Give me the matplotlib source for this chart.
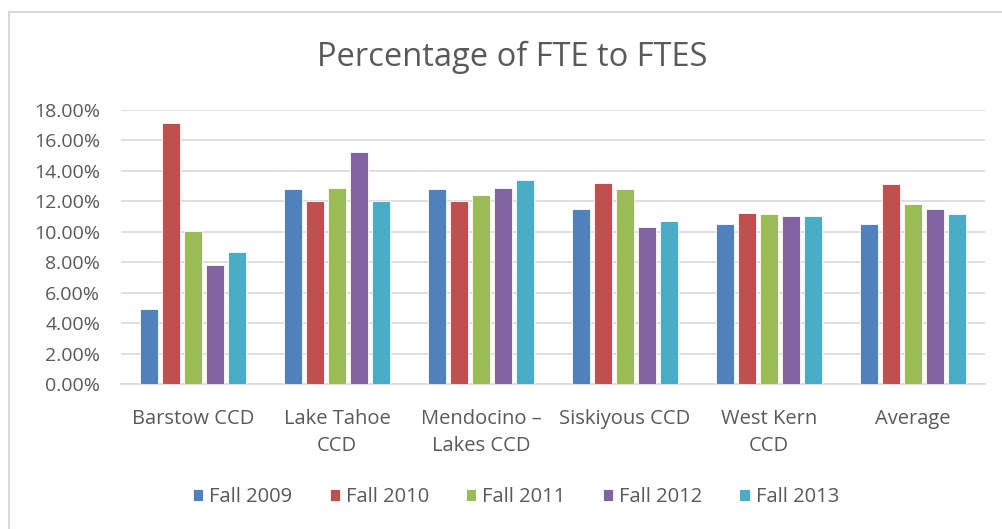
import matplotlib.pyplot as plt
import numpy as np
from matplotlib.lines import Line2D
from matplotlib.ticker import FuncFormatter

plt.rcParams['font.family'] = ['Open Sans', 'DejaVu Sans']

categories = ["Barstow CCD", "Lake Tahoe\nCCD", "Mendocino \u2013\nLakes CCD",
              "Siskiyous CCD", "West Kern\nCCD", "Average"]
series = ["Fall 2009", "Fall 2010", "Fall 2011", "Fall 2012", "Fall 2013"]

fall2009 = [4.91, 12.81, 12.81, 11.47, 10.53, 10.51]
fall2010 = [17.13, 12.02, 12.00, 13.23, 11.21, 13.12]
fall2011 = [10.03, 12.88, 12.39, 12.81, 11.15, 11.85]
fall2012 = [7.80, 15.26, 12.85, 10.31, 11.06, 11.47]
fall2013 = [8.65, 12.02, 13.40, 10.69, 11.04, 11.15]
values = [fall2009, fall2010, fall2011, fall2012, fall2013]

colors = ["#4f81bd", "#c0504d", "#9bbb59", "#8064a2", "#4bacc6"]
text_col = "#595959"

fig = plt.figure(figsize=(10.02, 5.29), dpi=100)
ax = fig.add_axes([121 / 1002, 1 - 384 / 529, 864 / 1002, 274 / 529])

x = np.arange(len(categories))
pitch = 0.153
for i, (name, vals) in enumerate(zip(series, values)):
    ax.bar(x + (i - 2) * pitch, vals, width=0.122, color=colors[i],
           edgecolor="white", linewidth=0.6, label=name, zorder=3)

ax.set_xlim(-0.5, len(categories) - 0.5)
ax.set_ylim(0, 18)
ax.set_yticks(np.arange(0, 18.1, 2))
ax.yaxis.set_major_formatter(FuncFormatter(lambda v, p: "%.2f%%" % v))
ax.set_xticks(x)
ax.set_xticklabels(categories, linespacing=1.45)
ax.grid(axis="y", color="#d9d9d9", linewidth=1.2, zorder=0)
for s in ["top", "right", "left"]:
    ax.spines[s].set_visible(False)
ax.spines["bottom"].set_color("#d9d9d9")
ax.spines["bottom"].set_linewidth(1.2)
ax.tick_params(axis="both", length=0, colors=text_col)
ax.tick_params(axis="x", labelsize=14.5, pad=18)
ax.tick_params(axis="y", labelsize=14, pad=15)

fig.text(512 / 1002, 1 - 57 / 529, "Percentage of FTE to FTES", ha="center",
         va="center", fontsize=23.5, color=text_col)

fig.legend(loc="center", bbox_to_anchor=(516 / 1002, 1 - 497 / 529), ncol=5,
           frameon=False, fontsize=14.5, handlelength=0.5, handleheight=0.5,
           handletextpad=0.3, columnspacing=1.85, labelcolor=text_col)

fig.add_artist(Line2D([9 / 1002, 9 / 1002], [0, 1 - 12 / 529], color="#d9d9d9", lw=1.5))
fig.add_artist(Line2D([9 / 1002, 1], [1 - 12 / 529, 1 - 12 / 529], color="#d9d9d9", lw=1.5))

fig.savefig("out.png", dpi=100)
